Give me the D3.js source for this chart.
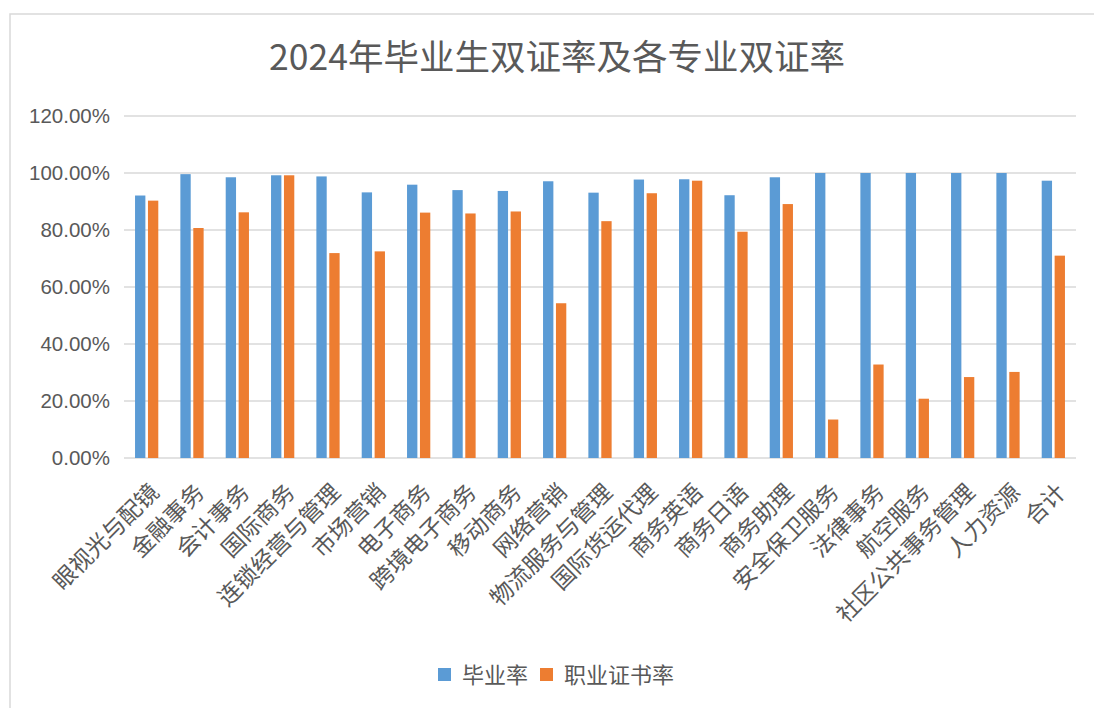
<!DOCTYPE html>
<html>
<head>
<meta charset="utf-8">
<script src="https://cdn.jsdelivr.net/npm/d3@7"></script>
<style>
  body { margin: 0; background: #fff; }
  svg { display: block; }
</style>
</head>
<body>
<div id="container"></div>
<script>
const majors = ["眼视光与配镜", "金融事务", "会计事务", "国际商务", "连锁经营与管理", "市场营销",
  "电子商务", "跨境电子商务", "移动商务", "网络营销", "物流服务与管理", "国际货运代理",
  "商务英语", "商务日语", "商务助理", "安全保卫服务", "法律事务", "航空服务",
  "社区公共事务管理", "人力资源", "合计"];
const gradRate = [0.921, 0.996, 0.985, 0.992, 0.988, 0.932, 0.959, 0.940, 0.937, 0.971, 0.931, 0.977,
  0.978, 0.922, 0.985, 1.0, 1.0, 1.0, 1.0, 1.0, 0.973];
const certRate = [0.903, 0.807, 0.862, 0.992, 0.719, 0.725, 0.861, 0.858, 0.865, 0.543, 0.831, 0.929,
  0.973, 0.794, 0.891, 0.135, 0.328, 0.208, 0.284, 0.302, 0.710];
const seriesNames = ["毕业率", "职业证书率"];
const yTicks = [0, 0.2, 0.4, 0.6, 0.8, 1.0, 1.2];

const width = 1094, height = 708;
const marginLeft = 124, marginRight = 18, marginTop = 116, marginBottom = 250;
const colors = ["#5B9BD5", "#ED7D31"];
const grey = "#595959";
const cjk = "'Noto Sans CJK SC', 'Noto Sans', sans-serif";

const svg = d3.select("#container").append("svg")
  .attr("width", width)
  .attr("height", height);

// chart frame (only top & left visible)
svg.append("rect")
  .attr("x", 10).attr("y", 14)
  .attr("width", width + 20).attr("height", height + 20)
  .attr("fill", "none")
  .attr("stroke", "#d9d9d9")
  .attr("stroke-width", 1.5);

svg.append("text")
  .attr("x", 557)
  .attr("y", 70)
  .attr("text-anchor", "middle")
  .attr("fill", grey)
  .style("font-family", cjk)
  .style("font-size", "35.5px")
  .text("2024年毕业生双证率及各专业双证率");

const x = d3.scaleBand()
  .domain(majors)
  .range([marginLeft, width - marginRight]);

const y = d3.scaleLinear()
  .domain([0, 1.2])
  .range([height - marginBottom, marginTop]);

// gridlines
svg.append("g")
  .selectAll("line")
  .data(yTicks)
  .join("line")
  .attr("x1", marginLeft)
  .attr("x2", width - marginRight)
  .attr("y1", d => y(d))
  .attr("y2", d => y(d))
  .attr("stroke", "#d9d9d9")
  .attr("stroke-width", 1.5);

svg.append("g")
  .attr("transform", `translate(${marginLeft - 14},0)`)
  .call(d3.axisLeft(y).tickValues(yTicks).tickFormat(d3.format(".2%")).tickSize(0))
  .call(g => g.select(".domain").remove())
  .call(g => g.selectAll("text")
    .attr("fill", grey)
    .attr("x", 0)
    .style("font-family", "'Liberation Sans', Arial, sans-serif")
    .style("font-size", "20.5px"));

const bw = x.bandwidth() * 0.228;
const gap = bw * 0.25;
const data = majors.map((m, i) => ({ m, v: [gradRate[i], certRate[i]] }));

data.forEach(d => {
  const cx = x(d.m) + x.bandwidth() / 2;
  svg.append("g")
    .selectAll("rect")
    .data(d.v)
    .join("rect")
    .attr("x", (v, j) => j === 0 ? cx - gap / 2 - bw : cx + gap / 2)
    .attr("y", v => y(v))
    .attr("width", bw)
    .attr("height", v => y(0) - y(v))
    .attr("fill", (v, j) => colors[j]);
});

// category labels, rotated
svg.append("g")
  .selectAll("text")
  .data(majors)
  .join("text")
  .attr("transform", d => `translate(${x(d) + x.bandwidth() / 2 + 8},${y(0) + 30}) rotate(-45)`)
  .attr("text-anchor", "end")
  .attr("dy", "0.35em")
  .attr("fill", grey)
  .style("font-family", cjk)
  .style("font-size", "23px")
  .text(d => d);

// legend
const legend = svg.append("g").attr("transform", "translate(438,675)");
const lx = [0, 102];
seriesNames.forEach((s, i) => {
  legend.append("rect")
    .attr("x", lx[i]).attr("y", -7)
    .attr("width", 13).attr("height", 13)
    .attr("fill", colors[i]);
  legend.append("text")
    .attr("x", lx[i] + 24).attr("y", 0)
    .attr("dy", "0.35em")
    .attr("fill", grey)
    .style("font-family", cjk)
    .style("font-size", "22px")
    .text(s);
});
</script>
</body>
</html>
